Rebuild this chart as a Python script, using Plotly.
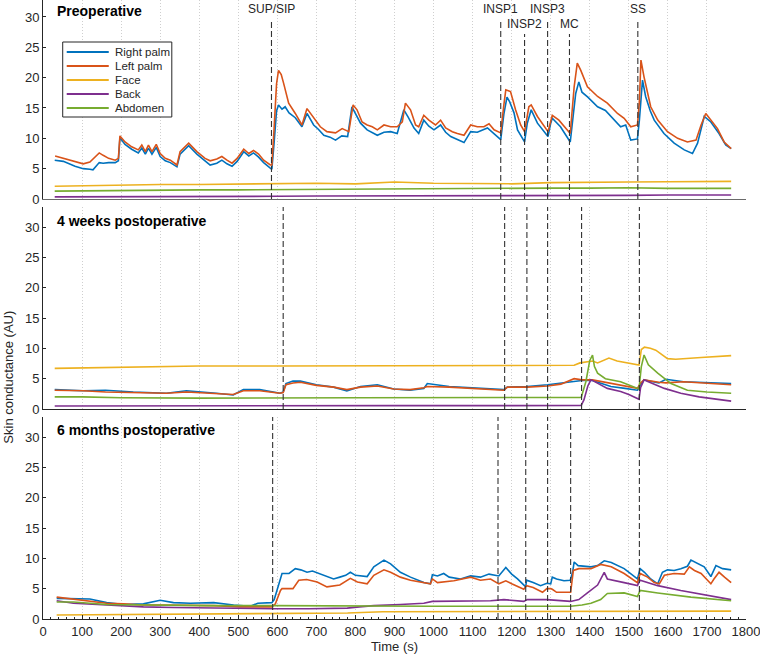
import plotly.graph_objects as go
from plotly.subplots import make_subplots

# ---------------- DATA ----------------
series_names = ["Right palm", "Left palm", "Face", "Back", "Abdomen"]
series_colors = ["#0072BD", "#D95319", "#EDB120", "#7E2F8E", "#77AC30"]
panel_titles = ["Preoperative", "4 weeks postoperative", "6 months postoperative"]

# --- Preoperative ---
pre_right_t = [30, 52, 82, 103, 120, 128, 144, 154, 168, 185, 193, 197, 210, 227, 244, 253, 262, 270, 279, 290, 300, 313,
               326, 343, 351, 373, 394, 415, 428, 445, 458, 471, 484, 497, 514, 527, 539, 552, 565, 582, 586,
               592, 598, 603, 612, 620, 630, 646, 663, 676, 693, 705, 719, 735, 749, 765, 780, 791, 800, 813, 830, 856,
               873, 890, 907, 924, 935, 950, 962, 975, 988, 1001, 1018, 1031, 1044, 1060, 1078, 1095, 1112, 1138, 1155,
               1172, 1180, 1188, 1195, 1206, 1215, 1223, 1233, 1240, 1250, 1266, 1283, 1293, 1300, 1304, 1325, 1338,
               1350, 1358, 1364, 1372, 1380, 1395, 1420, 1440, 1454, 1466, 1479, 1492, 1505, 1522, 1527, 1535, 1543,
               1555, 1565, 1590, 1616, 1642, 1663, 1676, 1693, 1710, 1731, 1748, 1762]
pre_right_v = [6.4, 6.2, 5.4, 5.0, 4.9, 4.8, 6.0, 5.9, 6.0, 6.0, 6.3, 10.1, 9.0, 8.2, 7.6, 8.4, 7.4, 8.4, 7.4, 8.5, 7.0, 6.3,
               6.0, 5.3, 7.4, 8.8, 7.4, 6.2, 5.6, 5.9, 6.4, 5.8, 5.4, 6.2, 7.8, 7.1, 7.6, 6.9, 6.0, 5.1, 4.9,
               9.5, 14.5, 15.5, 14.8, 15.2, 14.2, 13.4, 11.9, 14.1, 12.2, 11.5, 10.5, 10.2, 9.7, 10.4, 10.3, 15.2, 14.0,
               12.5, 11.4, 10.5, 11.0, 11.1, 10.8, 14.7, 13.5, 11.7, 10.8, 13.0, 12.0, 11.4, 12.2, 11.0, 10.3, 9.8, 9.3,
               11.1, 11.0, 11.7, 10.8, 9.8, 14.0, 16.8, 16.0, 14.2, 11.4, 10.6, 9.4, 12.5, 14.7, 12.5, 11.0, 10.3, 12.5,
               13.3, 11.9, 10.5, 9.4, 14.0, 17.4, 19.3, 17.6, 16.8, 15.2, 14.6, 13.6, 12.8, 11.9, 12.2, 9.7, 9.9, 13.0,
               19.6, 16.9, 14.5, 13.0, 10.8, 9.2, 8.1, 7.5, 9.2, 13.6, 12.7, 10.8, 8.9, 8.3]
pre_left_t = [31, 52, 82, 103, 120, 144, 154, 168, 185, 193, 197, 210, 227, 244, 253, 262, 270, 279, 290, 300, 313, 326,
              343, 351, 373, 394, 415, 428, 445, 458, 471, 484, 497, 514, 527, 539, 552, 565, 582, 586,
              592, 598, 603, 610, 616, 629, 646, 663, 676, 693, 710, 727, 749, 766, 783, 794, 804, 817, 830, 843, 856,
              873, 890, 907, 920, 928, 941, 954, 962, 975, 988, 1005, 1018, 1031, 1048, 1061, 1078, 1095, 1112, 1129,
              1142, 1155, 1172, 1180, 1185, 1197, 1210, 1223, 1233, 1244, 1250, 1266, 1283, 1293, 1304, 1321, 1338,
              1350, 1360, 1368, 1377, 1385, 1394, 1420, 1445, 1471, 1488, 1505, 1522, 1527, 1531, 1539, 1556, 1574,
              1599, 1625, 1650, 1672, 1685, 1697, 1710, 1727, 1744, 1762]
pre_left_v = [7.1, 6.7, 6.1, 5.8, 6.1, 7.6, 7.2, 6.7, 6.4, 6.7, 10.4, 9.4, 8.6, 8.1, 8.9, 7.8, 8.9, 7.8, 9.0, 7.5, 6.7, 6.4,
              5.6, 7.8, 9.2, 7.8, 6.7, 6.3, 6.6, 7.0, 6.4, 5.9, 6.7, 8.2, 7.5, 8.0, 7.4, 6.4, 5.6, 5.6,
              12.0, 19.0, 21.2, 20.5, 19.1, 15.8, 14.1, 12.2, 14.9, 13.3, 11.9, 11.1, 10.9, 11.6, 11.1, 15.5, 14.7, 12.7,
              12.2, 11.9, 11.4, 12.2, 11.9, 11.9, 12.7, 15.8, 14.7, 12.2, 11.9, 13.8, 13.0, 12.2, 13.0, 11.7, 11.1, 10.8,
              10.5, 12.2, 11.9, 11.9, 12.4, 11.4, 10.9, 15.5, 18.0, 17.7, 14.7, 12.2, 11.1, 15.2, 15.5, 13.6, 11.9, 11.1,
              13.8, 13.0, 11.7, 10.8, 18.5, 22.4, 21.2, 20.0, 18.5, 16.9, 15.8, 14.1, 13.3, 11.9, 12.2, 16.0, 22.9, 20.1,
              15.2, 13.0, 11.1, 10.0, 9.4, 9.7, 12.2, 14.1, 13.0, 11.6, 9.4, 8.3]
pre_base_t = [30, 100, 200, 300, 400, 500, 600, 700, 800, 900, 1000, 1100, 1200, 1300, 1400, 1500, 1600, 1700, 1762]
pre_face_v = [2.1, 2.2, 2.3, 2.4, 2.4, 2.5, 2.6, 2.6, 2.5, 2.8, 2.6, 2.6, 2.5, 2.7, 2.8, 2.8, 2.85, 2.9, 2.9]
pre_back_v = [0.35, 0.35, 0.4, 0.4, 0.45, 0.45, 0.45, 0.5, 0.5, 0.5, 0.5, 0.55, 0.55, 0.55, 0.6, 0.6, 0.65, 0.65, 0.65]
pre_abd_v = [1.3, 1.35, 1.4, 1.45, 1.5, 1.5, 1.55, 1.6, 1.6, 1.65, 1.7, 1.75, 1.75, 1.8, 1.8, 1.85, 1.75, 1.75, 1.75]

# --- 4 weeks postoperative ---
w4_palm_t = [30, 103, 160, 231, 316, 367, 444, 487, 513, 555, 607, 615, 622, 640, 659, 700, 744, 778, 813, 856, 898,
             940, 975, 984, 1040, 1129, 1180, 1189, 1240, 1292, 1326, 1360, 1380, 1407, 1454, 1490, 1522, 1530, 1539,
             1577, 1595, 1640, 1700, 1762]
w4_right_v = [3.2, 3.0, 3.1, 2.8, 2.6, 3.0, 2.6, 2.3, 3.2, 3.2, 2.6, 2.8, 4.2, 4.6, 4.6, 4.0, 3.6, 3.0, 3.7, 4.0, 3.3,
              3.1, 3.4, 4.2, 3.7, 3.4, 3.2, 3.6, 3.7, 4.0, 4.3, 4.6, 4.7, 4.7, 3.7, 3.4, 3.1, 4.0, 4.8,
              4.3, 4.9, 4.5, 4.3, 4.2]
w4_left_v = [3.1, 3.0, 2.8, 2.7, 2.6, 2.8, 2.6, 2.4, 3.0, 3.0, 2.6, 2.7, 4.0, 4.3, 4.4, 3.9, 3.6, 3.2, 3.6, 3.8, 3.3,
             3.2, 3.5, 3.7, 3.6, 3.3, 3.1, 3.6, 3.6, 3.8, 4.1, 5.0, 4.8, 4.8, 4.2, 3.8, 3.4, 4.3, 4.8,
             4.4, 4.3, 4.5, 4.2, 4.0]
w4_face_t = [30, 200, 400, 600, 800, 1000, 1200, 1360, 1375, 1395, 1407, 1420, 1449, 1470, 1500, 1526, 1532, 1540,
             1555, 1569, 1599, 1620, 1685, 1762]
w4_face_v = [6.7, 6.9, 7.1, 7.1, 7.1, 7.2, 7.2, 7.2, 7.6, 7.8, 7.9, 7.6, 8.4, 7.9, 7.5, 7.25, 9.8, 10.2,
             10.0, 9.7, 8.3, 8.2, 8.5, 8.8]
w4_back_t = [30, 300, 600, 900, 1200, 1378, 1385, 1395, 1403, 1410, 1445, 1479, 1500, 1526, 1530, 1539, 1550, 1591,
             1633, 1680, 1762]
w4_back_v = [0.5, 0.55, 0.6, 0.55, 0.55, 0.6, 1.5, 3.8, 4.8, 4.6, 3.4, 2.9, 2.4, 1.6, 3.5, 4.8, 4.5, 3.4,
             2.6, 2.0, 1.3]
w4_abd_t = [30, 100, 200, 400, 800, 1200, 1378, 1390, 1400, 1407, 1412, 1420, 1440, 1479, 1522, 1526, 1532, 1539,
            1550, 1574, 1608, 1650, 1700, 1762]
w4_abd_v = [2.0, 2.0, 1.85, 1.8, 1.85, 1.9, 1.9, 4.5, 8.0, 8.9, 7.0, 5.9, 5.0, 4.5, 3.5, 3.3, 7.0, 8.9,
            7.3, 5.9, 4.2, 3.1, 2.8, 2.6]

# --- 6 months postoperative ---
m6_right_t = [35, 78, 120, 163, 206, 257, 300, 334, 377, 437, 488, 531, 550, 586, 592, 599, 612, 630, 646, 660, 676,
              690, 719, 744, 760, 775, 787, 800, 830, 847, 873, 890, 915, 941, 975, 992, 997, 1010, 1026, 1040, 1069,
              1095, 1120, 1142, 1167, 1185, 1200, 1215, 1236, 1238, 1255, 1274, 1290, 1300, 1304, 1315, 1334, 1350,
              1356, 1360, 1370, 1385, 1403, 1420, 1437, 1455, 1488, 1522, 1529, 1540, 1556, 1574, 1586, 1599, 1616,
              1633, 1650, 1659, 1676, 1693, 1710, 1723, 1740, 1762]
m6_right_v = [3.4, 3.4, 3.3, 2.7, 2.4, 2.5, 3.1, 2.7, 2.6, 2.7, 2.3, 2.1, 2.6, 2.7, 3.2, 4.7, 7.5, 7.5, 8.3, 8.1, 7.7,
              7.9, 7.2, 6.6, 6.9, 7.2, 7.7, 7.2, 7.0, 8.6, 9.7, 9.1, 7.7, 6.9, 6.0, 5.8, 7.3, 7.1, 7.5, 6.9, 6.6,
              7.1, 6.9, 7.4, 7.1, 8.5, 7.4, 6.6, 5.3, 6.4, 6.0, 5.5, 5.9, 5.8, 6.9, 6.6, 6.3, 6.4,
              7.7, 9.4, 8.8, 8.7, 8.6, 8.8, 9.6, 9.3, 8.3, 6.6, 8.3, 7.7, 6.6, 5.8, 7.7, 8.1, 8.0,
              8.3, 8.7, 9.7, 9.1, 8.6, 7.0, 8.8, 8.3, 8.1]
m6_left_t = [35, 78, 120, 163, 206, 257, 300, 377, 437, 505, 586, 595, 608, 612, 640, 655, 675, 702, 727, 760, 787,
             805, 830, 847, 873, 890, 915, 941, 975, 992, 997, 1010, 1052, 1095, 1120, 1146, 1167, 1185, 1200, 1231,
             1238, 1255, 1279, 1290, 1300, 1304, 1315, 1351, 1358, 1372, 1403, 1428, 1455, 1488, 1522, 1529, 1548,
             1565, 1578, 1591, 1616, 1642, 1655, 1668, 1685, 1710, 1718, 1731, 1745, 1762]
m6_left_v = [3.6, 3.3, 2.9, 2.6, 2.5, 2.3, 2.3, 2.3, 2.2, 2.0, 2.0, 2.5, 4.7, 5.0, 5.0, 6.4, 6.5, 6.1, 5.3, 5.6, 6.7,
             6.1, 5.8, 7.2, 8.1, 7.7, 6.9, 6.4, 6.0, 5.8, 6.6, 6.0, 6.3, 6.9, 6.4, 6.6, 5.8, 6.3, 5.8, 4.9,
             5.5, 5.2, 4.4, 5.0, 5.0, 4.9, 4.4, 4.4, 8.0, 8.3, 8.3, 9.0, 8.6, 7.5, 6.0, 7.5, 6.9,
             6.0, 5.8, 7.2, 7.5, 7.4, 8.6, 8.0, 7.5, 5.8, 6.6, 7.7, 6.9, 6.0]
m6_face_t = [35, 200, 400, 586, 780, 870, 1000, 1300, 1500, 1600, 1762]
m6_face_v = [0.65, 0.75, 0.85, 1.0, 1.0, 1.2, 1.2, 1.2, 1.2, 1.2, 1.3]
m6_back_t = [35, 78, 163, 257, 334, 420, 505, 590, 680, 779, 810, 847, 915, 975, 997, 1069, 1146, 1180, 1231, 1240,
             1290, 1351, 1372, 1394, 1420, 1437, 1445, 1488, 1522, 1529, 1574, 1633, 1700, 1762]
m6_back_v = [3.0, 2.6, 2.3, 2.0, 1.9, 1.8, 1.7, 1.7, 1.7, 1.8, 2.0, 2.2, 2.4, 2.6, 2.9, 2.9, 3.0, 3.2, 2.9, 3.2,
             3.2, 2.9, 3.2, 4.3, 5.6, 7.7, 6.6, 6.0, 5.5, 6.4, 5.5, 4.7, 3.9, 3.2]
m6_abd_t = [35, 78, 163, 257, 420, 590, 850, 1000, 1351, 1380, 1403, 1428, 1445, 1488, 1522, 1529, 1574, 1659, 1762]
m6_abd_v = [2.8, 2.8, 2.4, 2.3, 2.2, 2.2, 2.1, 2.1, 2.1, 2.3, 2.6, 3.2, 4.2, 4.3, 3.7, 4.7, 4.3, 3.6, 3.0]

# event markers (s) per panel
event_labels = ["SUP/SIP", "INSP1", "INSP2", "INSP3", "MC", "SS"]
pre_events = [585, 1172, 1233, 1292, 1348, 1523]
w4_events = [615, 1182, 1239, 1292, 1379, 1527]
m6_events = [588, 1165, 1236, 1292, 1351, 1527]

# ---------------- FIGURE ----------------
FONT = "Liberation Sans, Arial, sans-serif"
TXT = "#262626"
H = 619.0          # plot-area height in px
W = 702.4          # plot-area width in px
X0 = 43.3          # left margin in px


def px_x(px):
    return (px - X0) / W


def px_y(py):
    return (H - py) / H


fig = make_subplots(rows=3, cols=1)

panels = [
    [(pre_right_t, pre_right_v), (pre_left_t, pre_left_v), (pre_base_t, pre_face_v),
     (pre_base_t, pre_back_v), (pre_base_t, pre_abd_v)],
    [(w4_palm_t, w4_right_v), (w4_palm_t, w4_left_v), (w4_face_t, w4_face_v),
     (w4_back_t, w4_back_v), (w4_abd_t, w4_abd_v)],
    [(m6_right_t, m6_right_v), (m6_left_t, m6_left_v), (m6_face_t, m6_face_v),
     (m6_back_t, m6_back_v), (m6_abd_t, m6_abd_v)],
]

for r, pdata in enumerate(panels, start=1):
    for i, (t, v) in enumerate(pdata):
        fig.add_trace(go.Scatter(x=t, y=v, mode="lines", name=series_names[i],
                                 line=dict(color=series_colors[i], width=1.6),
                                 showlegend=False),
                      row=r, col=1)

domains = [(px_y(199), 1.0), (px_y(409), px_y(207)), (0.0, px_y(417))]
yranges = [[0, 32.8], [0, 33.3], [0, 33.3]]

for r in range(1, 4):
    xa = dict(range=[0, 1800], dtick=100, tick0=0, showgrid=True, gridcolor="#cfcfcf",
              griddash="1px,2px", gridwidth=1, showline=True,
              linecolor=("#6a6a6a" if r == 1 else TXT), linewidth=1,
              zeroline=False, tickfont=dict(family=FONT, size=13, color=TXT))
    if r == 3:
        xa.update(ticks="inside", ticklen=4, tickcolor=TXT, showticklabels=True,
                  ticklabeloverflow="allow",
                  minor=dict(dtick=20, ticks="inside", ticklen=2, tickcolor=TXT, showgrid=False),
                  title=dict(text="Time (s)", font=dict(family=FONT, size=13, color=TXT), standoff=4))
    else:
        xa.update(ticks="", showticklabels=False)
    fig.update_xaxes(xa, row=r, col=1)
    fig.update_yaxes(dict(range=yranges[r - 1], domain=domains[r - 1], tickvals=[0, 5, 10, 15, 20, 25, 30],
                          ticks="inside", ticklen=3, tickcolor=TXT, showgrid=False, showline=True,
                          linecolor=TXT, linewidth=1, zeroline=False,
                          tickfont=dict(family=FONT, size=13, color=TXT)), row=r, col=1)

shapes = []
annotations = []
# event lines
for r, evs in enumerate([pre_events, w4_events, m6_events], start=1):
    xref = "x" if r == 1 else f"x{r}"
    yref = "y" if r == 1 else f"y{r}"
    for k, e in enumerate(evs):
        if r == 1:
            top = 27.2 if event_labels[k] in ("INSP2", "MC") else 29.2
            shapes.append(dict(type="line", xref=xref, yref=yref, x0=e, x1=e, y0=0, y1=top,
                               line=dict(color="#333333", width=1.1, dash="6px,3px")))
        else:
            shapes.append(dict(type="line", xref=xref, yref=yref + " domain", x0=e, x1=e, y0=0, y1=1,
                               line=dict(color="#333333", width=1.1, dash="6px,3px")))

# event labels (top panel)
for k, e in enumerate(pre_events):
    low = event_labels[k] in ("INSP2", "MC")
    annotations.append(dict(x=e, xref="x", y=px_y(24 if low else 9), yref="paper",
                            text=event_labels[k], showarrow=False, xanchor="center", yanchor="middle",
                            font=dict(family=FONT, size=12, color=TXT)))

# panel titles
for k, py in enumerate([11, 221, 430]):
    annotations.append(dict(x=px_x(55), xref="paper", y=px_y(py), yref="paper",
                            text="<b>" + panel_titles[k] + "</b>", showarrow=False,
                            xanchor="left", yanchor="middle",
                            font=dict(family=FONT, size=14, color="#000000")))

# y axis title
annotations.append(dict(x=px_x(8), xref="paper", y=px_y(377), yref="paper",
                        text="Skin conductance (AU)", textangle=-90, showarrow=False,
                        xanchor="center", yanchor="middle",
                        font=dict(family=FONT, size=13, color=TXT)))

# legend box (MATLAB-style, compact)
shapes.append(dict(type="rect", xref="paper", yref="paper", x0=px_x(63), x1=px_x(172),
                   y0=px_y(117), y1=px_y(42), fillcolor="white", line=dict(color=TXT, width=1),
                   layer="above"))
for i, name in enumerate(series_names):
    yy = px_y(52 + 14 * i)
    shapes.append(dict(type="line", xref="paper", yref="paper", x0=px_x(67), x1=px_x(109),
                       y0=yy, y1=yy, line=dict(color=series_colors[i], width=1.8), layer="above"))
    annotations.append(dict(x=px_x(113), xref="paper", y=yy, yref="paper", text=name,
                            showarrow=False, xanchor="left", yanchor="middle",
                            font=dict(family=FONT, size=11.5, color=TXT)))

fig.update_layout(
    width=760, height=661,
    margin=dict(l=X0, r=760 - X0 - W, t=0, b=661 - H),
    paper_bgcolor="white", plot_bgcolor="white",
    shapes=shapes, annotations=annotations,
    font=dict(family=FONT, color=TXT),
    showlegend=False,
)

fig.write_html("out.html")
